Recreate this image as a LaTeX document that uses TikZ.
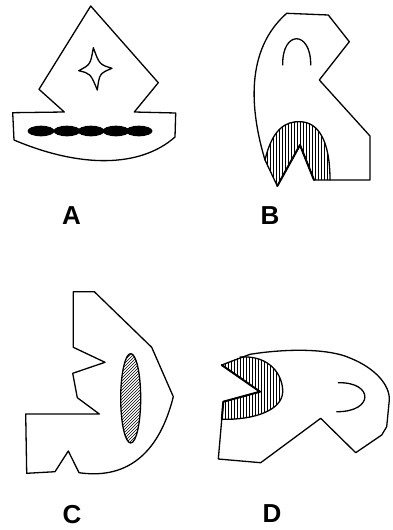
\documentclass[tikz,border=0pt]{standalone}
\usepackage{fontspec}
\setmainfont{Liberation Sans}
\usetikzlibrary{patterns}
\begin{document}
\begin{tikzpicture}[x=1pt, y=-1pt, line cap=round, line join=round, line width=1.3pt,
		lbl/.style={font=\fontsize{26}{26}\selectfont\bfseries, inner sep=0pt},
		vhatch/.style={pattern=vertical lines},
		dhatch/.style={pattern=north east lines}]
				\useasboundingbox (0, 0) rectangle (393, 530);
				% A
				\draw (90.7, 6) -- (158.3, 82.7) -- (134.3, 112) -- (175.7, 113) -- (175, 137) .. controls (140, 168) and (80, 168) .. (14, 140) -- (12.7, 112.7) -- (64.3, 112) -- (39, 89.3) -- cycle;
				\draw (93.3, 47.7) .. controls (99.5, 64.5) .. (112, 68.3) .. controls (99.5, 73.5) .. (97.3, 90) .. controls (90.5, 73.5) .. (78.7, 70.7) .. controls (90.5, 64.5) .. cycle;
				\foreach \x in {41, 67, 91, 116, 139}
					\fill (\x, 131) ellipse [x radius=13.5, y radius=5.3];
				\node[lbl] (labA) at (71.5, 216) {A};
				% B
				\fill[vhatch] (265, 160) .. controls (272, 130) and (285, 121) .. (300, 121.7) .. controls (318, 122) and (330, 140) .. (330, 180) -- (314, 180) -- (300, 145) -- (277.3, 186) -- cycle;
				\draw (265, 160) .. controls (272, 130) and (285, 121) .. (300, 121.7) .. controls (318, 122) and (330, 140) .. (330, 180);
				\draw (286.7, 13.3) -- (328.3, 15) -- (349.3, 41.7) -- (319.3, 80) -- (370, 136) -- (370, 180) -- (314, 180) -- (300, 145) -- (277.3, 186) -- (265, 160) .. controls (250, 110) and (245, 50) .. cycle;
				\draw[line width=2pt] (314, 180) -- (300, 145) -- (277.3, 186);
				\draw (282.7, 65) .. controls (282, 30) and (311, 30) .. (310.7, 65);
				\node[lbl] (labB) at (270, 216) {B};
				% C
				\draw (73.3, 291.7) -- (94.3, 291.7) -- (151.7, 347.3) -- (173.3, 396.7) .. controls (160, 450) and (130, 480) .. (79, 472.7) -- (68.3, 451) -- (55, 471.7) -- (26.7, 473.3) -- (25.7, 414) -- (99.3, 414) -- (77.3, 397.7) -- (72.7, 373.3) -- (105, 362.3) -- (73.3, 347.3) -- cycle;
				\draw[dhatch] (130.7, 398.3) ellipse [x radius=10, y radius=44.7];
				\node[lbl] (labC) at (72, 515) {C};
				% D
				\fill[vhatch] (221.7, 365) -- (240, 357) .. controls (270, 355) and (283, 375) .. (282.7, 392) .. controls (282, 410) and (255, 420) .. (221.8, 419.3) -- (223.3, 401.7) -- (260, 391.7) -- cycle;
				\draw (240, 357) .. controls (270, 355) and (283, 375) .. (282.7, 392) .. controls (282, 410) and (255, 420) .. (221.8, 419.3);
				\draw (221.7, 365) -- (250, 354.3) .. controls (290, 348) and (330, 349) .. (350, 358) .. controls (375, 368) and (390, 385) .. (389.3, 400) -- (386.7, 426.7) -- (381.7, 435) -- (355.7, 452.7) -- (320.7, 418.3) -- (260.7, 462.7) -- (218.3, 459) -- (223.3, 401.7) -- (260, 391.7) -- cycle;
				\draw[line width=2pt] (221.7, 365) -- (260, 391.7) -- (223.3, 401.7) -- (221.8, 419.3);
				\draw (338.3, 382.7) .. controls (374, 382) and (374, 412) .. (336.7, 411.7);
				\node[lbl] (labD) at (272, 514) {D};
			\end{tikzpicture}
\end{document}
